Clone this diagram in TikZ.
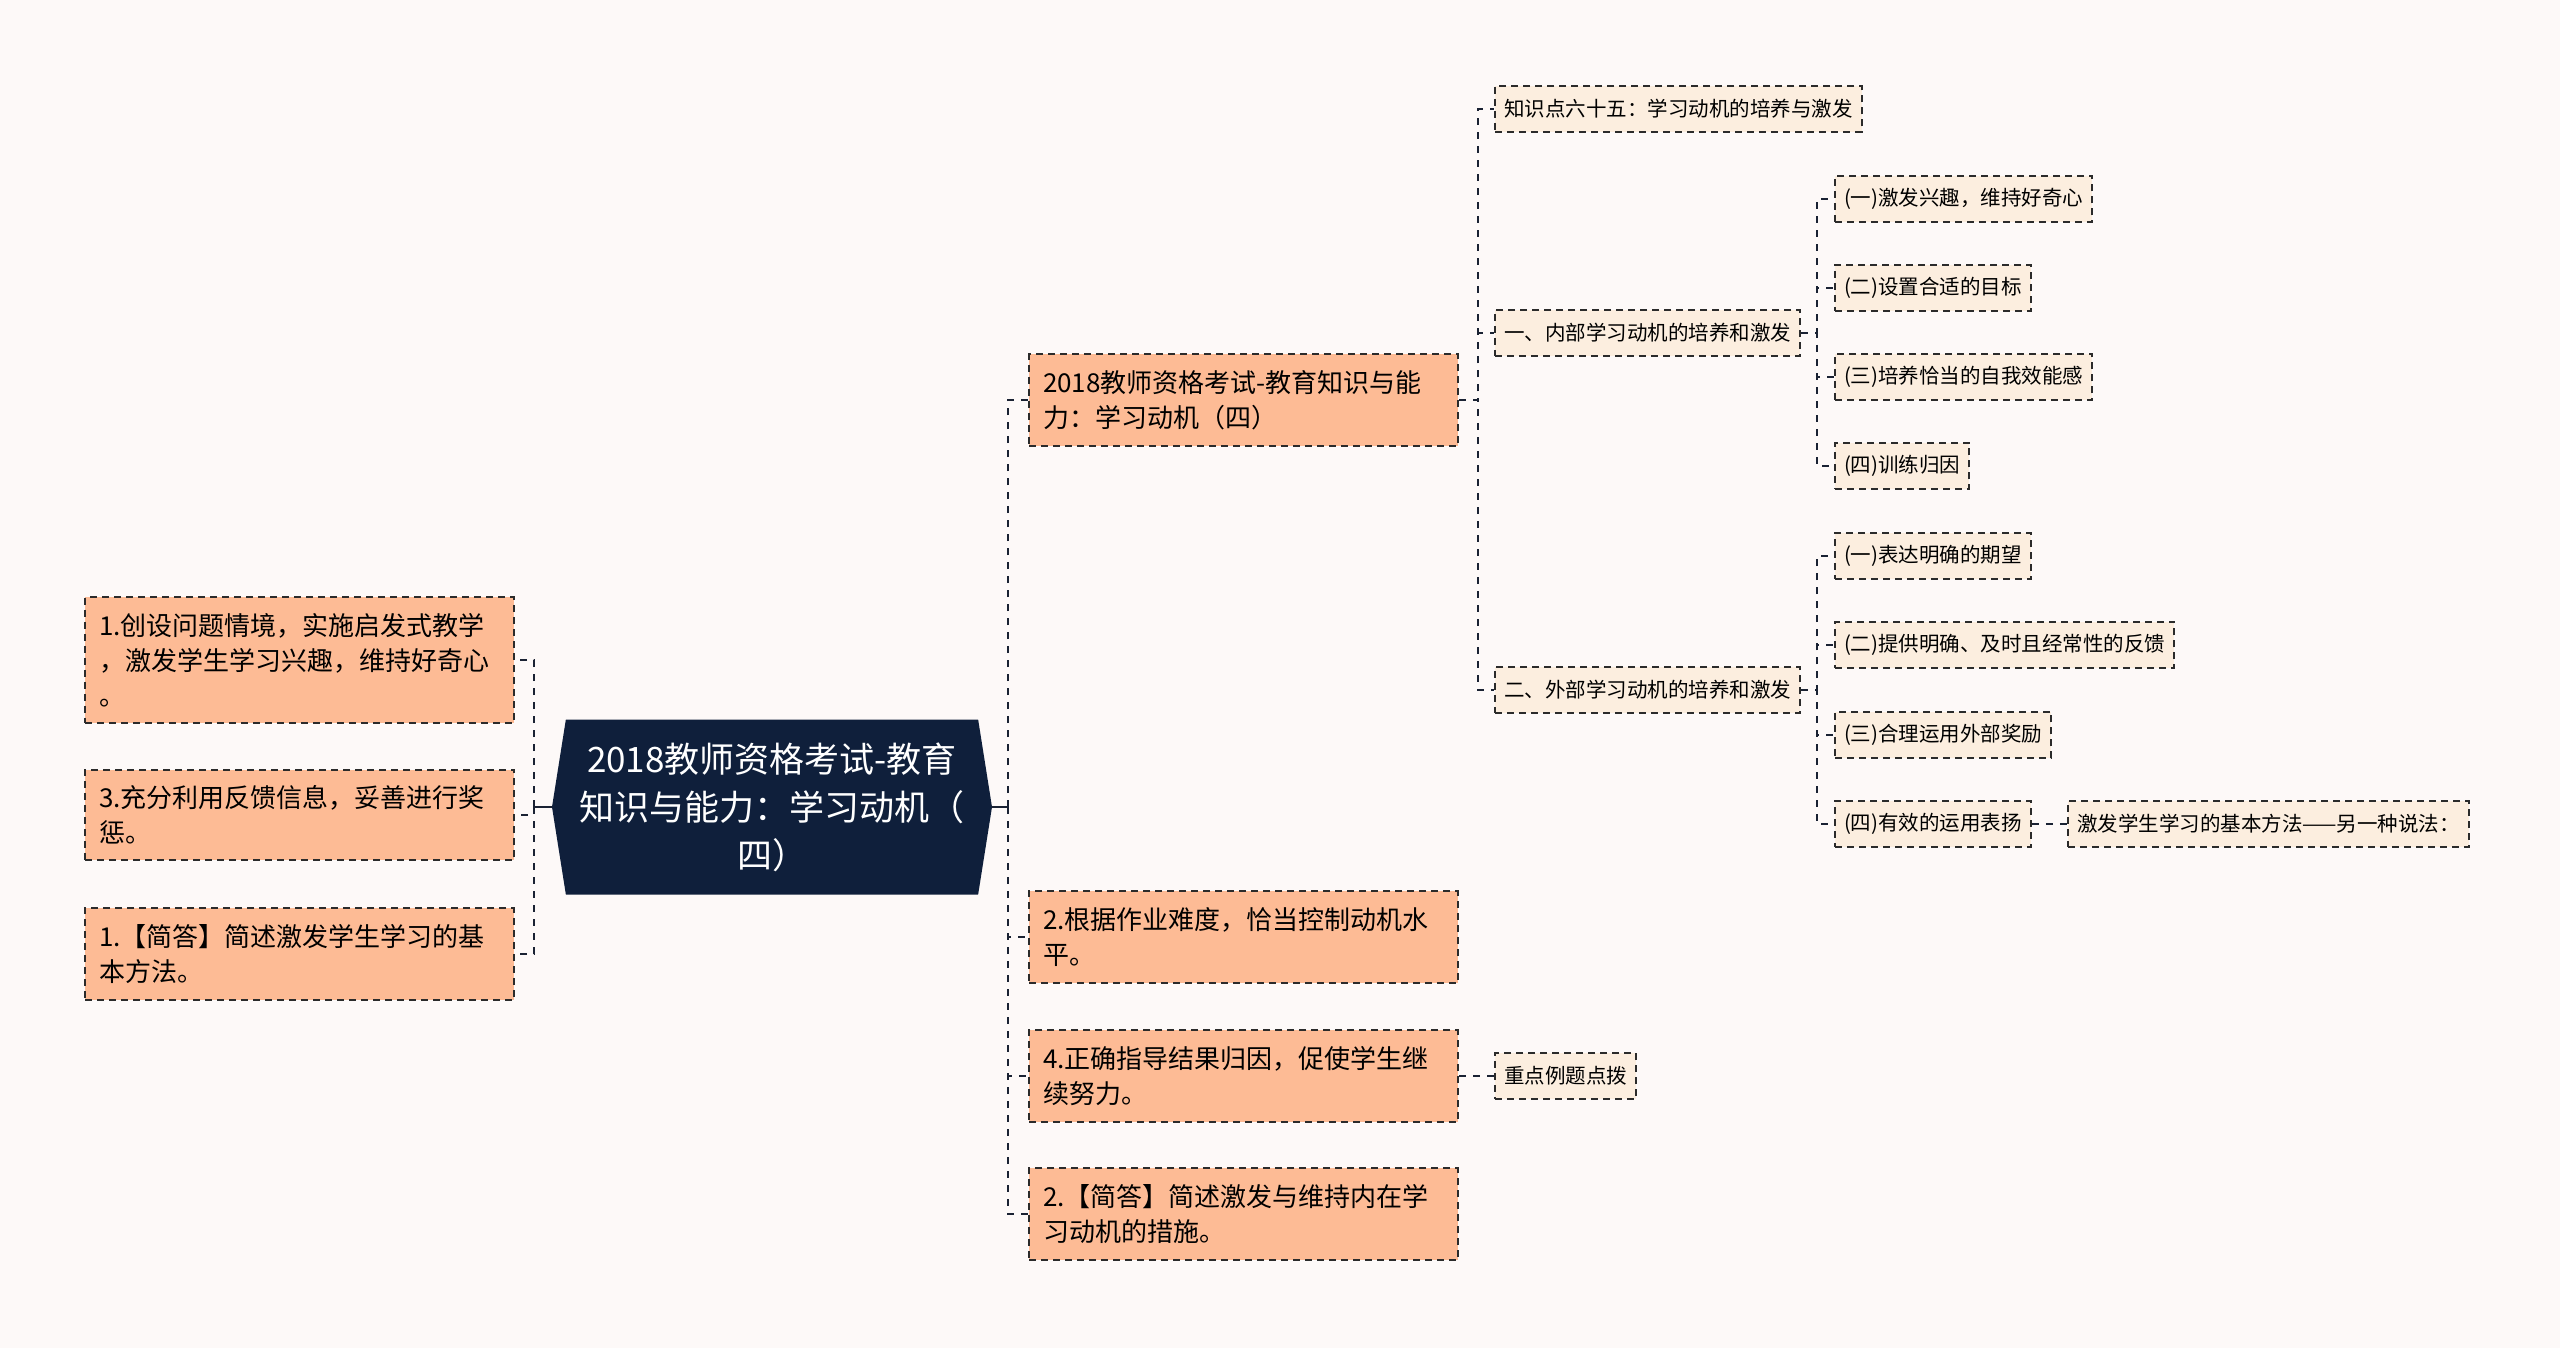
\documentclass[tikz,border=0pt]{standalone}
\usepackage{fontspec}
\newfontfamily\cjkfont{Noto Sans CJK SC}
\usetikzlibrary{shapes.symbols}
\definecolor{mmnavy}{HTML}{0F1F3B}
\definecolor{mmpeach}{HTML}{FDBB95}
\definecolor{mmcream}{HTML}{FCEEDF}
\definecolor{mmink}{HTML}{2B2B2B}
\definecolor{mmline}{HTML}{1A2233}
\definecolor{mmbg}{HTML}{FDF9F8}
\tikzset{
  hub/.style={shape=signal,signal to=west and east,signal pointer angle=162,fill=mmnavy,text=white,
              align=center,minimum width=440pt,minimum height=175pt,inner sep=0pt,
              font=\cjkfont\fontsize{35}{48}\selectfont},
  topic/.style={draw=mmink,fill=mmpeach,dash pattern=on 7pt off 5pt,line width=2pt,text width=401pt,
              align=left,inner xsep=14pt,inner ysep=16pt,font=\cjkfont\fontsize{26}{35}\selectfont},
  leaf/.style={draw=mmink,fill=mmcream,dash pattern=on 7pt off 5pt,line width=2pt,minimum height=46pt,
              inner xsep=9pt,font=\cjkfont\fontsize{20.5}{24}\selectfont},
  ln/.style={draw=mmline,line width=2.5pt,dash pattern=on 7pt off 7pt},
  lnsolid/.style={draw=mmline,line width=2.5pt},
}
\begin{document}
\begin{tikzpicture}[x=1pt,y=-1pt]
    \fill[mmbg] (0,0) rectangle (2560,1348);
    \useasboundingbox (0,0) rectangle (2560,1348);
    \node[hub] (hub) at (772,807) {2018教师资格考试-教育\\知识与能力：学习动机（\\四）};
    \coordinate (lj) at (534,807);
    \coordinate (rj) at (1008,807);
    \node[topic,anchor=east] (l1) at (515,660) {1.创设问题情境，实施启发式教学\\，激发学生学习兴趣，维持好奇心\\。};
    \node[topic,anchor=east] (l2) at (515,815) {3.充分利用反馈信息，妥善进行奖\\惩。};
    \node[topic,anchor=east] (l3) at (515,954) {1.【简答】简述激发学生学习的基\\本方法。};
    \node[topic,anchor=west] (t1) at (1028,400) {2018教师资格考试-教育知识与能\\力：学习动机（四）};
    \node[topic,anchor=west] (t2) at (1028,937) {2.根据作业难度，恰当控制动机水\\平。};
    \node[topic,anchor=west] (t3) at (1028,1076) {4.正确指导结果归因，促使学生继\\续努力。};
    \node[topic,anchor=west] (t4) at (1028,1214) {2.【简答】简述激发与维持内在学\\习动机的措施。};
    \node[leaf,anchor=west] (k65) at (1494,109) {知识点六十五：学习动机的培养与激发};
    \node[leaf,anchor=west] (inner) at (1494,333) {一、内部学习动机的培养和激发};
    \node[leaf,anchor=west] (outer) at (1494,690) {二、外部学习动机的培养和激发};
    \node[leaf,anchor=west] (in1) at (1834,199) {(一)激发兴趣，维持好奇心};
    \node[leaf,anchor=west] (in2) at (1834,288) {(二)设置合适的目标};
    \node[leaf,anchor=west] (in3) at (1834,377) {(三)培养恰当的自我效能感};
    \node[leaf,anchor=west] (in4) at (1834,466) {(四)训练归因};
    \node[leaf,anchor=west] (out1) at (1834,556) {(一)表达明确的期望};
    \node[leaf,anchor=west] (out2) at (1834,645) {(二)提供明确、及时且经常性的反馈};
    \node[leaf,anchor=west] (out3) at (1834,735) {(三)合理运用外部奖励};
    \node[leaf,anchor=west] (out4) at (1834,824) {(四)有效的运用表扬};
    \node[leaf,anchor=west] (alt) at (2067,824) {激发学生学习的基本方法——另一种说法：};
    \node[leaf,anchor=west] (tip) at (1494,1076) {重点例题点拨};
    \draw[lnsolid] (hub.west) -- (lj);
    \draw[lnsolid] (hub.east) -- (rj);
    \foreach \n in {l1,l2,l3} \draw[ln] (lj) |- (\n.east);
    \foreach \n in {t1,t2,t3,t4} \draw[ln] (rj) |- (\n.west);
    \foreach \n in {k65,inner,outer} \draw[ln] (t1.east) -- ++(19,0) |- (\n.west);
    \foreach \n in {in1,in2,in3,in4} \draw[ln] (inner.east) -- ++(16,0) |- (\n.west);
    \foreach \n in {out1,out2,out3,out4} \draw[ln] (outer.east) -- ++(16,0) |- (\n.west);
    \draw[ln] (out4) -- (alt);
    \draw[ln] (t3.east) -- ++(19,0) |- (tip.west);
\end{tikzpicture}
\end{document}
